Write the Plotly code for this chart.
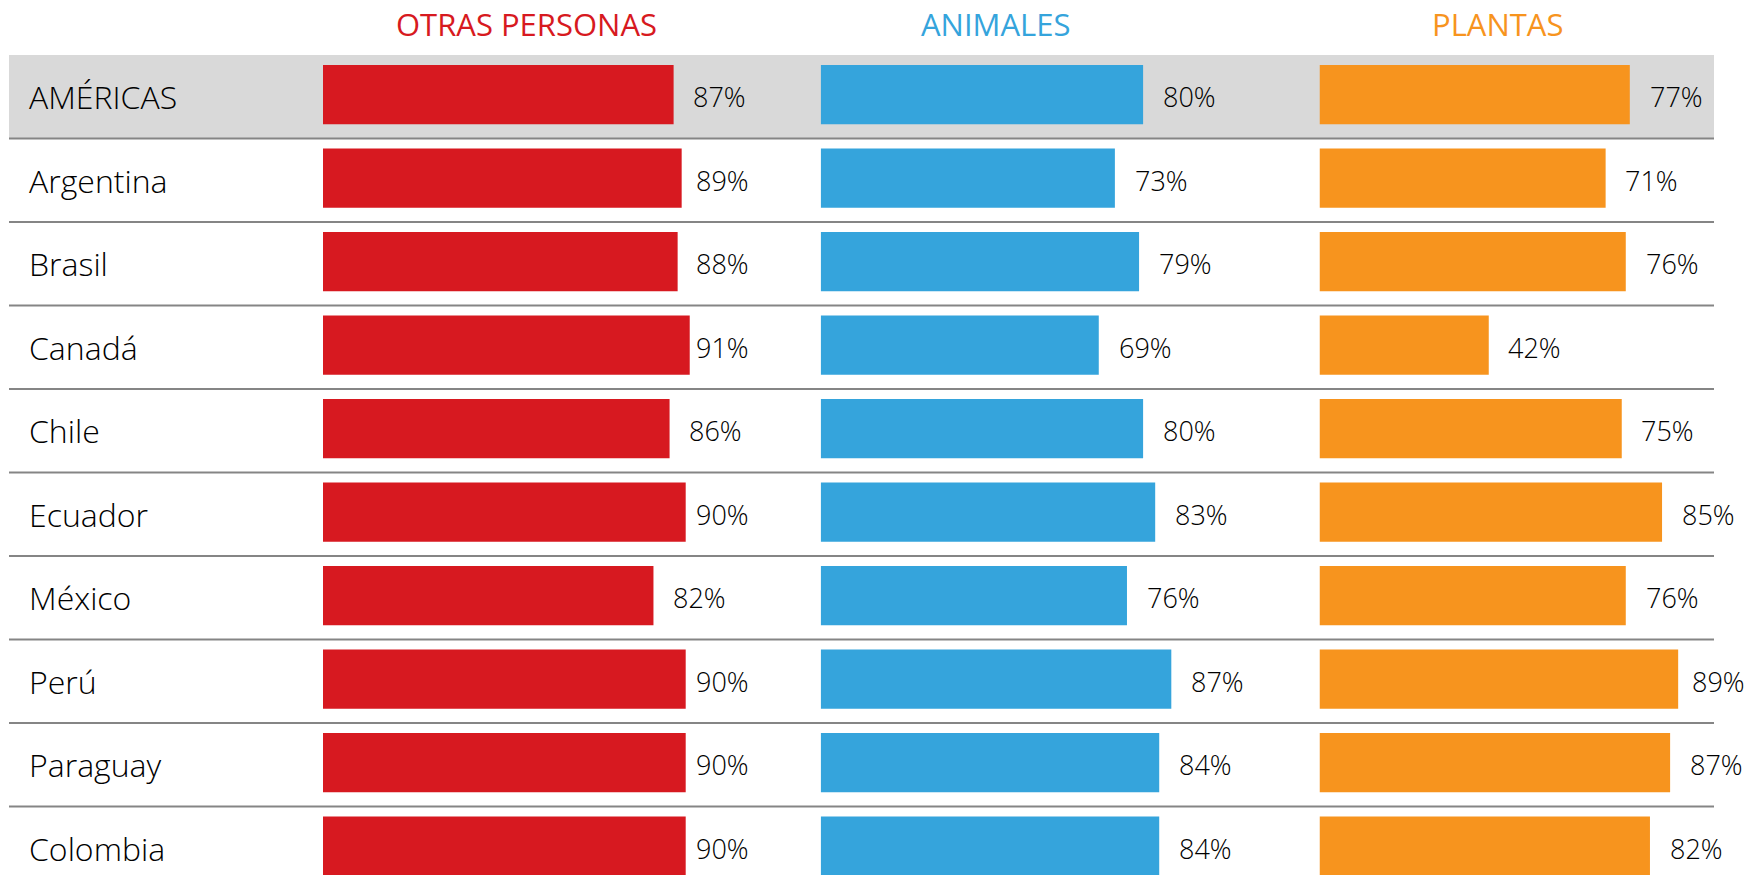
import plotly.graph_objects as go

countries = ["AMÉRICAS", "Argentina", "Brasil", "Canadá", "Chile", "Ecuador",
             "México", "Perú", "Paraguay", "Colombia"]
otras_personas = [87, 89, 88, 91, 86, 90, 82, 90, 90, 90]
animales = [80, 73, 79, 69, 80, 83, 76, 87, 84, 84]
plantas = [77, 71, 76, 42, 75, 85, 76, 89, 87, 82]
headers = ["OTRAS PERSONAS", "ANIMALES", "PLANTAS"]
colors = ["#D71920", "#35A4DC", "#F7941E"]
series = [otras_personas, animales, plantas]

W, H = 1746, 875
TOP = 55
PITCH = 83.5
PX_PER_PCT = 4.03
panel_x0 = [323, 820.7, 1319.5]
DOM_W = 420
XMAX = DOM_W / PX_PER_PCT
header_x = [50.4, 43.5, 44.2]

ypos = list(range(len(countries)))
y_bottom = -0.5 + (H - TOP) / PITCH

FONT = "Open Sans"

fig = go.Figure()
layout_axes = {}
for k, (vals, col) in enumerate(zip(series, colors)):
    xa = "x" if k == 0 else f"x{k+1}"
    fig.add_trace(go.Bar(
        x=vals, y=ypos, orientation="h", xaxis=xa, yaxis="y",
        marker=dict(color=col, line=dict(width=0)), width=0.71, offset=-0.38,
        hoverinfo="skip", showlegend=False,
    ))
    key = "xaxis" if k == 0 else f"xaxis{k+1}"
    d0 = panel_x0[k] / W
    layout_axes[key] = dict(domain=[d0, (panel_x0[k] + DOM_W) / W], range=[0, XMAX],
                            visible=False, fixedrange=True,
                            **({} if k == 0 else {"anchor": "y"}))
    for i, v in enumerate(vals):
        fig.add_annotation(x=min(v + 4.4, 92), y=i, xref=xa, yref="y",
                           text=f"{v}%", showarrow=False, xanchor="left", yanchor="middle",
                           font=dict(family=FONT, size=27, color="#000000", weight=300))
    fig.add_annotation(x=header_x[k], y=1 + 31 / (H - TOP), xref=xa, yref="paper",
                       text=headers[k], showarrow=False, xanchor="center", yanchor="middle",
                       font=dict(family=FONT, size=31, color=col, weight=400))

for i, c in enumerate(countries):
    fig.add_annotation(x=27 / W, y=i, xref="paper", yref="y", text=c, showarrow=False,
                       xanchor="left", yanchor="middle",
                       font=dict(family=FONT, size=32, color="#000000", weight=300))

shapes = [dict(type="rect", xref="paper", yref="y", x0=9 / W, x1=1714 / W,
               y0=-0.5, y1=0.5, fillcolor="#D9D9D9", line=dict(width=0), layer="below")]
for i in range(len(countries) - 1):
    shapes.append(dict(type="line", xref="paper", yref="y", x0=9 / W, x1=1714 / W,
                       y0=i + 0.5, y1=i + 0.5, line=dict(color="#858585", width=2), layer="below"))

fig.update_layout(
    width=W, height=H, margin=dict(l=0, r=0, t=TOP, b=0),
    paper_bgcolor="white", plot_bgcolor="rgba(0,0,0,0)",
    yaxis=dict(range=[y_bottom, -0.5], visible=False, fixedrange=True),
    shapes=shapes, bargap=0.29,
    **layout_axes,
)
fig.write_html("out.html", config={"displayModeBar": False},
               post_script="document.body.style.margin='0';document.body.style.overflow='hidden';")
